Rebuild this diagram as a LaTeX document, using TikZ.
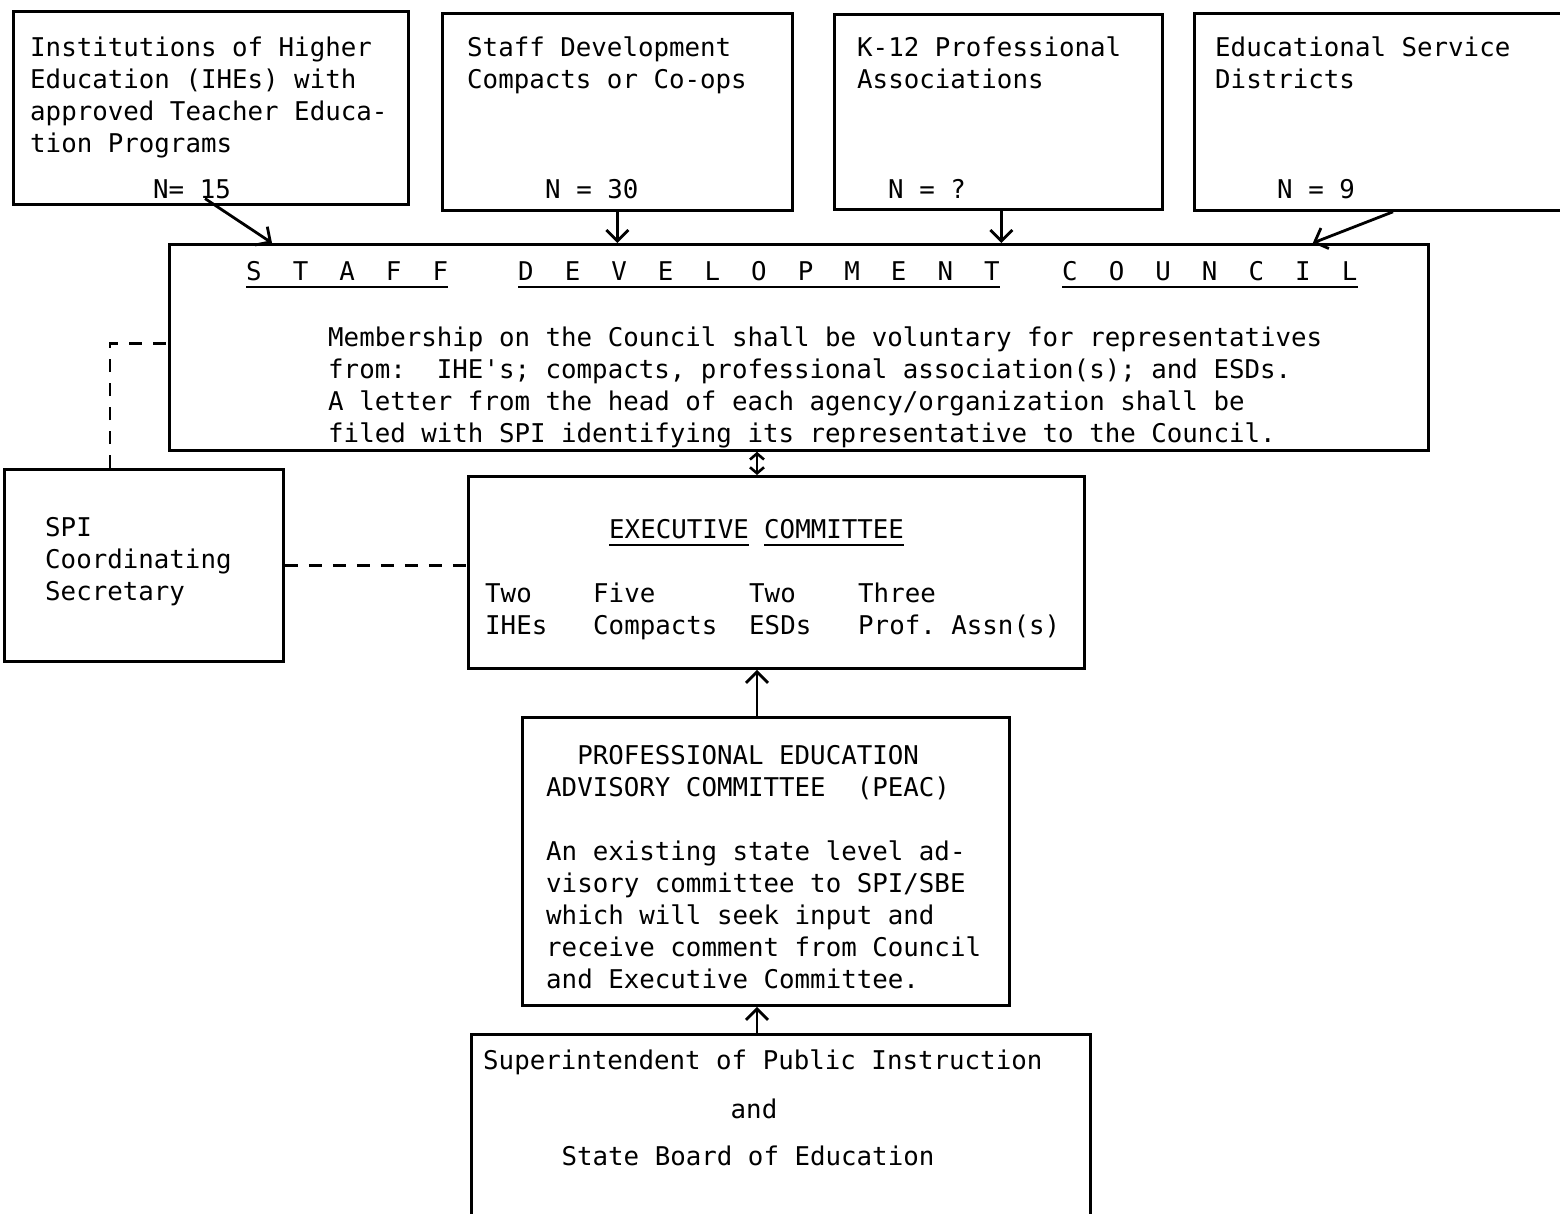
\documentclass[tikz,border=0pt]{standalone}
\usepackage{fontspec}
\setmonofont{DejaVu Sans Mono}
\usetikzlibrary{arrows.meta,calc}

\newcommand\chartfont{\ttfamily\fontsize{25.8}{32}\selectfont}

\tikzset{
  box/.style={draw, line width=2.8pt, anchor=north west, inner sep=0pt},
  txt/.style={anchor=north west, inner sep=0pt, align=left, font=\chartfont},
  arr/.style={line width=2.8pt, -{Straight Barb[length=11pt,width=22pt,line width=2.8pt]}},
  both/.style={line width=2.8pt, {Straight Barb[length=6pt,width=14pt,line width=2.6pt]}-{Straight Barb[length=6pt,width=14pt,line width=2.6pt]}},
  link/.style={line width=2.4pt, dash pattern=on 13pt off 11pt},
  uline/.style={line width=2.4pt},
}

\begin{document}
\begin{tikzpicture}[x=1pt, y=-1pt]

\useasboundingbox[fill=white] (0,0) rectangle (1560,1214);

% source boxes along the top
\node[box, minimum width=395pt, minimum height=193pt] (ihe) at (12,10) {};
\node[box, minimum width=350pt, minimum height=197pt] (stf) at (441,12) {};
\node[box, minimum width=328pt, minimum height=195pt] (k12) at (833,13) {};
\node[box, minimum width=420pt, minimum height=197pt] (esd) at (1193,12) {};

\node[txt] (iheT) at (30,37) {Institutions of Higher\\Education (IHEs) with\\approved Teacher Educa-\\tion Programs};
\node[txt] (iheN) at (153,179) {N= 15};
\node[txt] (stfT) at (467,37) {Staff Development\\Compacts or Co-ops};
\node[txt] (stfN) at (545,179) {N = 30};
\node[txt] (k12T) at (857,37) {K-12 Professional\\Associations};
\node[txt] (k12N) at (888,179) {N = ?};
\node[txt] (esdT) at (1215,37) {Educational Service\\Districts};
\node[txt] (esdN) at (1277,179) {N = 9};

% council
\node[box, minimum width=1259pt, minimum height=206pt] (council) at (168,243) {};
\node[txt] (tStaff) at (246,261) {S~~T~~A~~F~~F};
\node[txt] (tDevel) at (518,261) {D~~E~~V~~E~~L~~O~~P~~M~~E~~N~~T};
\node[txt] (tCouncil) at (1062,261) {C~~O~~U~~N~~C~~I~~L};
\foreach \w in {tStaff,tDevel,tCouncil}
  \draw[uline] ([yshift=-6pt]\w.south west) -- ([yshift=-6pt]\w.south east);
\node[txt] (councilT) at (328,327) {Membership on the Council shall be voluntary for representatives\\from:~~IHE's; compacts, professional association(s); and ESDs.\\A letter from the head of each agency/organization shall be\\filed with SPI identifying its representative to the Council.};

% coordinating secretary
\node[box, minimum width=279pt, minimum height=192pt] (spi) at (3,468) {};
\node[txt] (spiT) at (45,517) {SPI\\Coordinating\\Secretary};

% executive committee
\node[box, minimum width=616pt, minimum height=192pt] (exec) at (467,475) {};
\node[txt] (tExec) at (609,519) {EXECUTIVE};
\node[txt] (tComm) at (764,519) {COMMITTEE};
\foreach \w in {tExec,tComm}
  \draw[uline] ([yshift=-6pt]\w.south west) -- ([yshift=-6pt]\w.south east);
\node[txt] (exIhe) at (485,583) {Two\\IHEs};
\node[txt] (exCmp) at (593,583) {Five\\Compacts};
\node[txt] (exEsd) at (749,583) {Two\\ESDs};
\node[txt] (exPrf) at (858,583) {Three\\Prof. Assn(s)};

% PEAC
\node[box, minimum width=487pt, minimum height=288pt] (peac) at (521,716) {};
\node[txt] (peacT) at (546,745) {~~PROFESSIONAL EDUCATION\\ADVISORY COMMITTEE~~(PEAC)\\[32pt]An existing state level ad-\\visory committee to SPI/SBE\\which will seek input and\\receive comment from Council\\and Executive Committee.};

% SPI and SBE
\node[box, minimum width=619pt, minimum height=250pt] (sup) at (470,1033) {};
\node[txt] (supT) at (483,1050) {Superintendent of Public Instruction};
\node[txt, anchor=north] (supAnd) at (754,1099) {and};
\node[txt, anchor=north] (supSbe) at (748,1146) {State Board of Education};

% connectors
\coordinate (spine) at (757,0);
\draw[arr] ([xshift=13pt]iheN.south) -- ($(council.north west)+(104,0)$);
\draw[arr] (stf.south) -- (stf.south |- council.north);
\draw[arr] ([xshift=3pt]k12.south) -- ([xshift=3pt]k12.south |- council.north);
\draw[arr] ($(esd.south west)+(200,0)$) -- ($(council.north east)+(-117,0)$);
\draw[both] (council.south -| spine) -- (exec.north -| spine);
\draw[arr] (peac.north -| spine) -- (exec.south -| spine);
\draw[arr] (sup.north -| spine) -- (peac.south -| spine);
\draw[link] ($(spi.north west)+(107,0)$) |- ($(council.west)+(0,-4)$);
\draw[link] (spi.east) -- (spi.east -| exec.west);

\end{tikzpicture}
\end{document}
